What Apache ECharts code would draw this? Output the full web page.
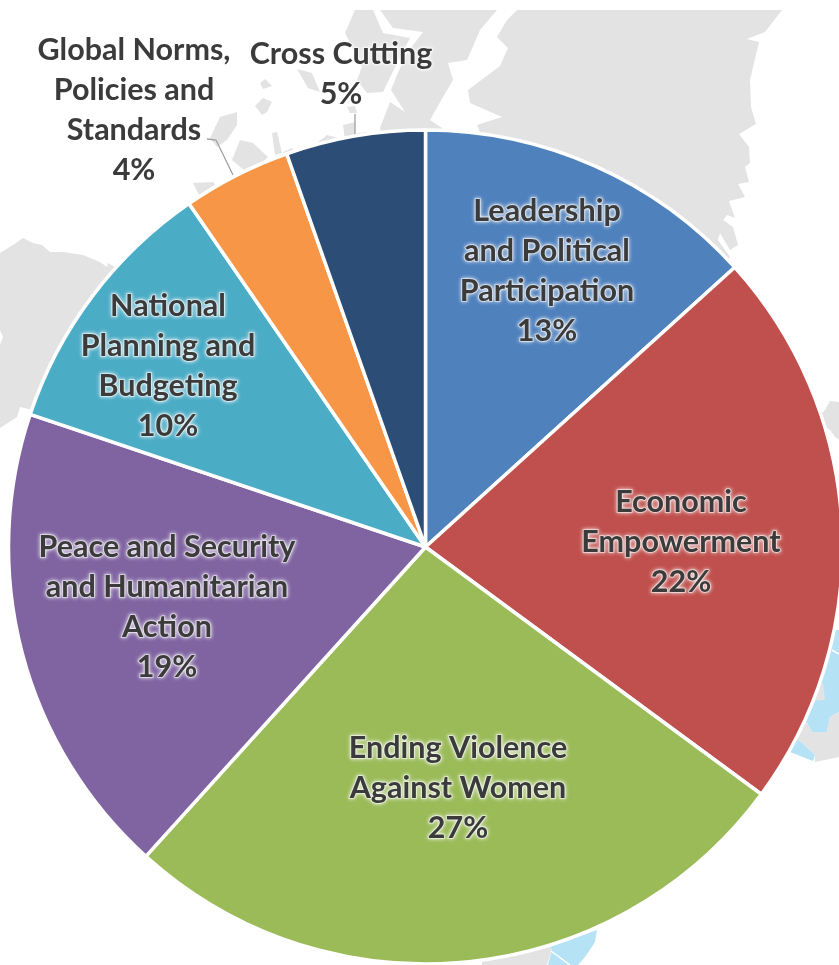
<!DOCTYPE html>
<html><head><meta charset="utf-8">
<style>html,body{margin:0;padding:0;background:#fff}#c{width:839px;height:965px}</style>
<script src="https://cdn.jsdelivr.net/npm/echarts@6/dist/echarts.min.js"></script>
</head><body><div id="c"></div>
<script>
const categories = ["Leadership\nand Political\nParticipation","Economic\nEmpowerment","Ending Violence\nAgainst Women","Peace and Security\nand Humanitarian\nAction","National\nPlanning and\nBudgeting","Global Norms,\nPolicies and\nStandards","Cross Cutting"];
const shares = [13.3,21.8,26.6,18.45,10.25,4.2,5.4];
const sliceColors = ["#4F81BD","#C0504D","#9BBB59","#8064A2","#4BACC6","#F79646","#2C4D75"];
const labelCentres = [[547,271],[681,542],[458,788],[167,607],[168,366],[134,110.5],[341,74]];
const leaderLines = {5:[[233,175],[216,140],[207,139]],6:[[355,136],[355,125],[355,114]]};

const GREY="#E3E3E3", BLUE="#B5E2F5";
const mapShapes = [
 [GREY,[[517,10],[782,10],[765,32],[747,39],[759,42],[750,80],[751,107],[756,124],[739,134],[749,147],[750,163],[745,167],[749,182],[738,184],[745,197],[729,201],[735,218],[727,215],[723,220],[733,227],[738,245],[730,250],[720,233],[718,240],[730,257],[700,300],[480,180],[480,133],[477,125],[502,117],[470,103],[468,90],[500,66],[508,48],[497,37],[507,20]]],
 [GREY,[[355,10],[373,10],[383,33],[410,38],[400,57],[383,92],[367,93],[357,80],[362,67],[345,33]]],
 [GREY,[[380,10],[497,10],[480,30],[467,60],[448,63],[453,80],[443,97],[430,120],[442,128],[440,145],[383,145],[380,128],[390,102],[405,112],[391,90],[397,75],[407,53],[423,32],[393,28]]],
 [GREY,[[297,69],[312,73],[320,92],[308,88]]],
 [GREY,[[260,83],[265,79],[272,86],[263,89]]],
 [GREY,[[255,106],[263,98],[272,102],[267,112],[262,115]]],
 [GREY,[[210,138],[220,117],[237,112],[237,125],[227,140],[217,147]]],
 [GREY,[[232,160],[240,140],[253,143],[268,157],[250,175]]],
 [GREY,[[272,133],[277,132],[282,153],[275,155]]],
 [GREY,[[283,152],[292,148],[295,152],[288,160]]],
 [GREY,[[318,142],[327,135],[338,138],[335,150]]],
 [GREY,[[343,125],[355,122],[355,136],[345,140]]],
 [GREY,[[357,133],[370,132],[370,140],[357,140]]],
 [GREY,[[347,107],[355,106],[357,113],[350,113]]],
 [GREY,[[193,183],[213,182],[217,187],[200,197]]],
 [GREY,[[0,253],[13,245],[23,238],[33,243],[42,245],[50,252],[63,252],[83,255],[100,262],[107,267],[108,263],[115,267],[120,300],[60,420],[33,410],[20,407],[17,417],[0,428],[0,345],[3,337],[0,330]]],
 [GREY,[[825,410],[830,401],[839,402],[839,440],[835,437],[830,430],[815,420]]],
 [BLUE,[[836,630],[839,630],[839,712],[830,717],[827,732],[812,732],[807,723],[785,720],[810,660]]],
 [GREY,[[807,690],[823,683],[825,700],[806,701]]],
 [GREY,[[807,723],[812,732],[827,732],[830,717],[839,712],[839,757],[815,762],[815,755],[800,741],[785,735]]],
 [BLUE,[[785,735],[800,741],[815,755],[813,761],[790,752]]],
 [BLUE,[[555,945],[597,930],[595,942],[585,957],[578,965],[548,965],[552,950],[540,930]]],
 [GREY,[[482,950],[550,940],[552,950],[547,965],[482,965]]]
];

const bg = mapShapes.map(([fill,points])=>({type:'polygon',z:-1,shape:{points},style:{fill}}));
bg.push({type:'polyline',z:-1,shape:{points:[[832,650],[839,654]]},style:{stroke:'#FFFFFF',lineWidth:1.5,fill:null}});
bg.push({type:'polyline',z:-1,shape:{points:[[551,951],[570,965]]},style:{stroke:'#FFFFFF',lineWidth:1.5,fill:null}});

const textStyle = {
  color:'#3B3B3B',fontFamily:'Lato',fontWeight:'bold',fontSize:30.5,lineHeight:40,align:'center',verticalAlign:'middle',
  textShadowColor:'rgba(255,255,255,0.95)',textShadowBlur:4,textBorderColor:'rgba(255,255,255,0.5)',textBorderWidth:2
};
const data = categories.map((name,i)=>({
  name,value:shares[i],itemStyle:{color:sliceColors[i]},
  label:{position:leaderLines[i]?'outside':'inside'},
  labelLine:{show:!!leaderLines[i],lineStyle:{color:'#A0A0A0',width:1.3}}
}));
const chart = echarts.init(document.getElementById('c'),null,{renderer:'canvas'});
chart.setOption({
  animation:false,
  backgroundColor:'#FFFFFF',
  graphic:{elements:bg},
  series:[{
    type:'pie',center:[425.5,547],radius:[0,417],startAngle:90,clockwise:true,
    avoidLabelOverlap:false,percentPrecision:0,silent:true,z:5,
    itemStyle:{borderColor:'#FFFFFF',borderWidth:3.5},
    label:{show:true,formatter:'{b}\n{d}%',...textStyle},
    labelLayout(p){
      const i=p.dataIndex, out={x:labelCentres[i][0],y:labelCentres[i][1],align:'center',verticalAlign:'middle'};
      if(leaderLines[i]) out.labelLinePoints=leaderLines[i];
      return out;
    },
    data
  }]
});
</script></body></html>
